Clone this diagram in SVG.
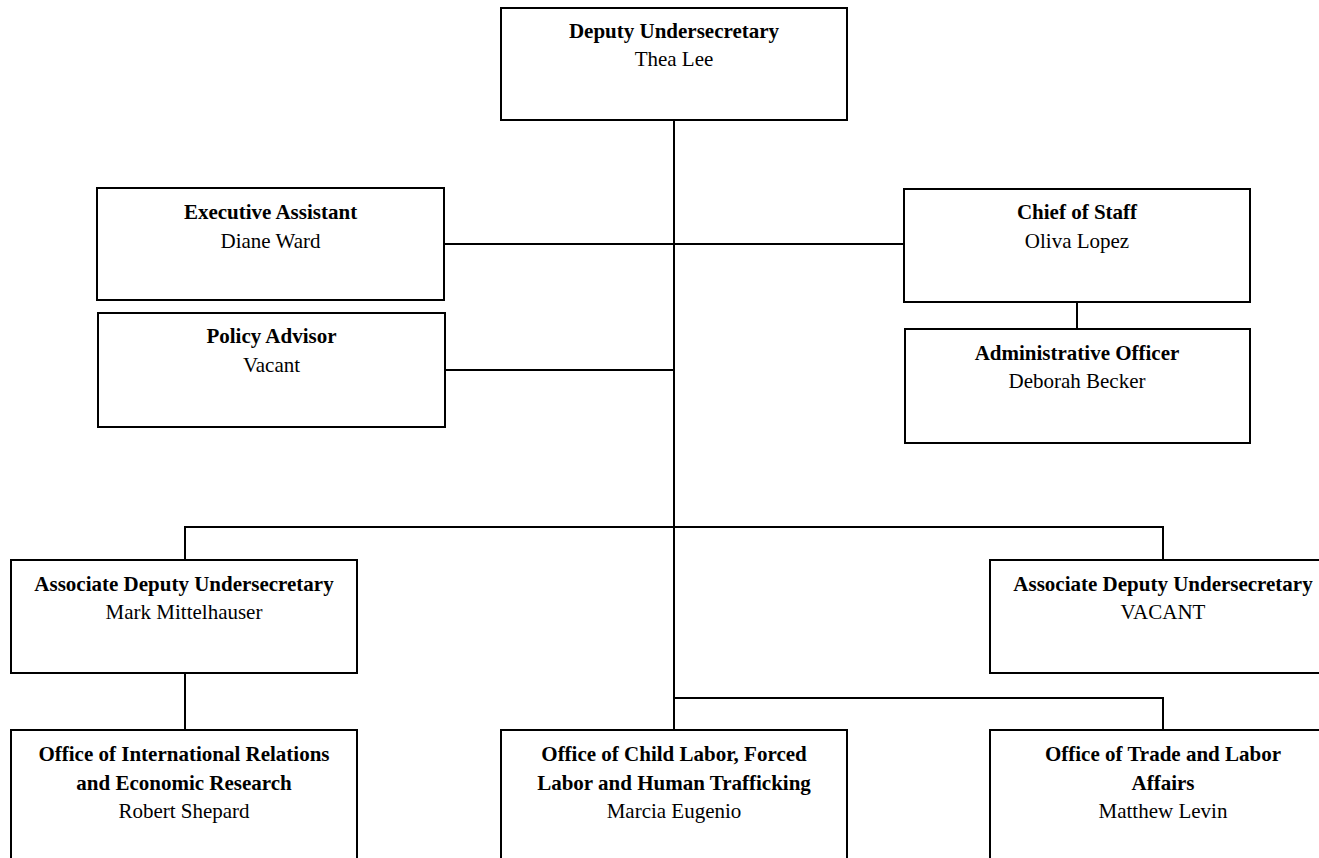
<svg xmlns="http://www.w3.org/2000/svg" width="1319" height="858" viewBox="0 0 1319 858">
<style>
.box{fill:#fff;stroke:#000;stroke-width:2}
.ln{fill:none;stroke:#000;stroke-width:2}
text{font-family:"Liberation Serif","Times New Roman",serif;font-size:21px;fill:#000;text-anchor:middle}
.t{font-weight:bold}
</style>
<rect width="1319" height="858" fill="#fff"/>
<g id="connectors">
<path class="ln" d="M674 120V730"/>
<path class="ln" d="M444 244H904"/>
<path class="ln" d="M445 370H674"/>
<path class="ln" d="M1077 302V329"/>
<path class="ln" d="M185 560V527H1163V560"/>
<path class="ln" d="M185 673V730"/>
<path class="ln" d="M674 698H1163V730"/>
</g>
<g id="deputy-undersecretary">
<rect class="box" x="501" y="8" width="346" height="112"/>
<text class="t" x="674" y="38">Deputy Undersecretary</text>
<text x="674" y="66">Thea Lee</text>
</g>
<g id="executive-assistant">
<rect class="box" x="97" y="188" width="347" height="112"/>
<text class="t" x="270.5" y="219">Executive Assistant</text>
<text x="270.5" y="248">Diane Ward</text>
</g>
<g id="policy-advisor">
<rect class="box" x="98" y="313" width="347" height="114"/>
<text class="t" x="271.5" y="343">Policy Advisor</text>
<text x="271.5" y="372">Vacant</text>
</g>
<g id="chief-of-staff">
<rect class="box" x="904" y="189" width="346" height="113"/>
<text class="t" x="1077" y="219">Chief of Staff</text>
<text x="1077" y="248">Oliva Lopez</text>
</g>
<g id="administrative-officer">
<rect class="box" x="905" y="329" width="345" height="114"/>
<text class="t" x="1077" y="360">Administrative Officer</text>
<text x="1077" y="388">Deborah Becker</text>
</g>
<g id="assoc-deputy-left">
<rect class="box" x="11" y="560" width="346" height="113"/>
<text class="t" x="184" y="591">Associate Deputy Undersecretary</text>
<text x="184" y="619">Mark Mittelhauser</text>
</g>
<g id="assoc-deputy-right">
<rect class="box" x="990" y="560" width="346" height="113"/>
<text class="t" x="1163" y="591">Associate Deputy Undersecretary</text>
<text x="1163" y="619">VACANT</text>
</g>
<g id="office-ilab-oiler">
<rect class="box" x="11" y="730" width="346" height="140"/>
<text class="t" x="184" y="761">Office of International Relations</text>
<text class="t" x="184" y="790">and Economic Research</text>
<text x="184" y="818">Robert Shepard</text>
</g>
<g id="office-child-labor">
<rect class="box" x="501" y="730" width="346" height="140"/>
<text class="t" x="674" y="761">Office of Child Labor, Forced</text>
<text class="t" x="674" y="790">Labor and Human Trafficking</text>
<text x="674" y="818">Marcia Eugenio</text>
</g>
<g id="office-trade-labor">
<rect class="box" x="990" y="730" width="346" height="140"/>
<text class="t" x="1163" y="761">Office of Trade and Labor</text>
<text class="t" x="1163" y="790">Affairs</text>
<text x="1163" y="818">Matthew Levin</text>
</g>
</svg>
